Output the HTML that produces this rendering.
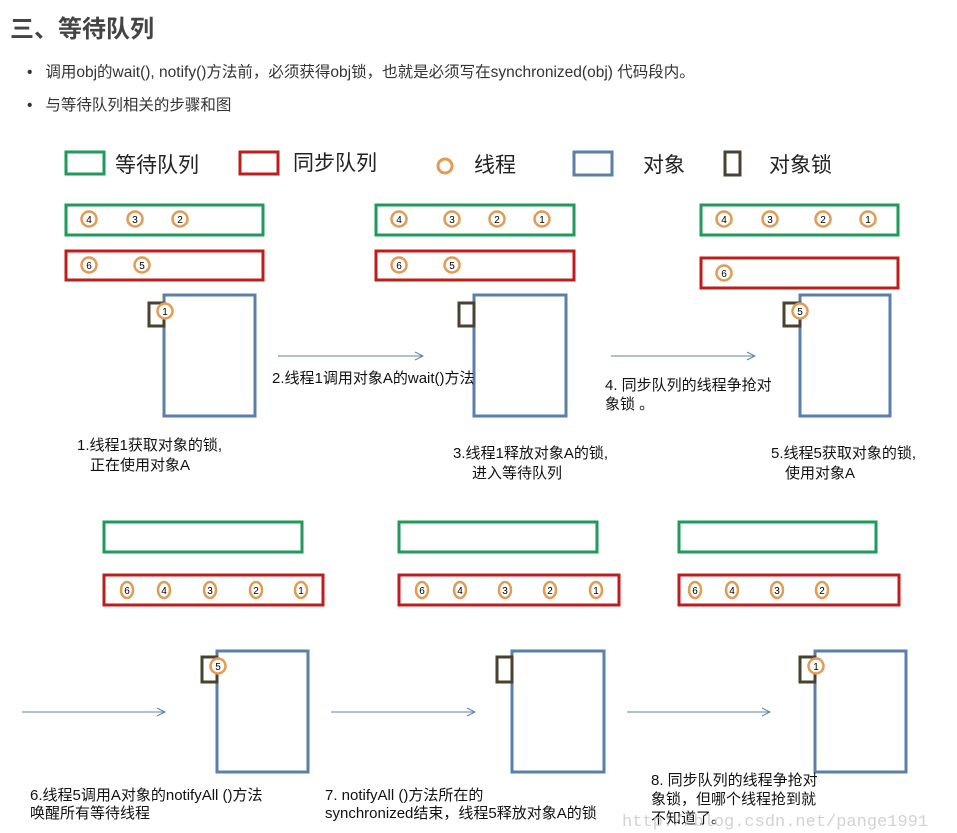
<!DOCTYPE html>
<html><head><meta charset="utf-8"><style>
html,body{margin:0;padding:0;background:#fff;}
body{width:957px;height:833px;overflow:hidden;position:relative;font-family:"Liberation Sans","Noto Sans CJK SC",sans-serif;}
.t{position:absolute;white-space:nowrap;}
</style></head><body>
<div class="t" style="left:10px;top:9px;font-size:24px;font-weight:bold;color:#444;">三、等待队列</div>
<div class="t" style="left:27px;top:60px;font-size:15.5px;color:#333;">•&nbsp;&nbsp; 调用obj的wait(), notify()方法前，必须获得obj锁，也就是必须写在synchronized(obj) 代码段内。</div>
<div class="t" style="left:27px;top:93px;font-size:15.5px;color:#333;">•&nbsp;&nbsp; 与等待队列相关的步骤和图</div>
<svg width="957" height="833" style="position:absolute;left:0;top:0" xmlns="http://www.w3.org/2000/svg" font-family="Liberation Sans,Noto Sans CJK SC,sans-serif">
<defs><marker id="a" markerWidth="10" markerHeight="10" refX="9" refY="5" orient="auto" markerUnits="userSpaceOnUse"><path d="M1,1 L9,5 L1,9" fill="none" stroke="#5b82ad" stroke-width="1"/></marker></defs>
<g fill="none" stroke-width="3">
<rect x="66" y="152" width="38" height="22" stroke="#1e9b5a"/>
<rect x="240" y="152" width="38" height="22" stroke="#c11c1c"/>
<circle cx="445" cy="166" r="7" stroke="#e39a55"/>
<rect x="574" y="152" width="38" height="23" stroke="#5b7fa8"/>
<rect x="725" y="152" width="15" height="23" stroke="#4a4230"/>
<rect x="66" y="205" width="197" height="30" stroke="#1e9b5a"/>
<rect x="66" y="251" width="197" height="29" stroke="#c11c1c"/>
<rect x="164" y="295" width="91" height="121" stroke="#5b7fa8"/>
<rect x="149" y="303" width="15" height="23" stroke="#4a4230"/>
<rect x="376" y="205" width="198" height="30" stroke="#1e9b5a"/>
<rect x="376" y="251" width="198" height="29" stroke="#c11c1c"/>
<rect x="474" y="295" width="92" height="121" stroke="#5b7fa8"/>
<rect x="459" y="303" width="15" height="23" stroke="#4a4230"/>
<rect x="701" y="205" width="197" height="30" stroke="#1e9b5a"/>
<rect x="701" y="258" width="197" height="30" stroke="#c11c1c"/>
<rect x="800" y="295" width="90" height="121" stroke="#5b7fa8"/>
<rect x="784" y="303" width="16" height="23" stroke="#4a4230"/>
<rect x="104" y="522" width="198" height="30" stroke="#1e9b5a"/>
<rect x="104" y="575" width="219" height="30" stroke="#c11c1c"/>
<rect x="217" y="651" width="91" height="121" stroke="#5b7fa8"/>
<rect x="202" y="657" width="15" height="25" stroke="#4a4230"/>
<rect x="399" y="522" width="198" height="30" stroke="#1e9b5a"/>
<rect x="399" y="575" width="220" height="30" stroke="#c11c1c"/>
<rect x="512" y="651" width="92" height="121" stroke="#5b7fa8"/>
<rect x="497" y="657" width="15" height="25" stroke="#4a4230"/>
<rect x="679" y="522" width="197" height="30" stroke="#1e9b5a"/>
<rect x="679" y="575" width="220" height="30" stroke="#c11c1c"/>
<rect x="815" y="651" width="91" height="121" stroke="#5b7fa8"/>
<rect x="800" y="657" width="15" height="25" stroke="#4a4230"/>
</g>
<g stroke="#5b82ad" stroke-width="1" marker-end="url(#a)">
<line x1="278" y1="356" x2="423" y2="356"/>
<line x1="611" y1="356" x2="755" y2="356"/>
<line x1="22" y1="712" x2="165" y2="712"/>
<line x1="331" y1="712" x2="475" y2="712"/>
<line x1="627" y1="712" x2="770" y2="712"/>
</g>
<g fill="#fff" stroke="#e39a55" stroke-width="2.5">
<circle cx="89" cy="219" r="7.5"/><circle cx="135" cy="219" r="7.5"/><circle cx="180" cy="219" r="7.5"/>
<circle cx="89" cy="265" r="7.5"/><circle cx="142" cy="265" r="7.5"/>
<circle cx="165" cy="311" r="7.5"/>
<circle cx="399" cy="219" r="7.5"/><circle cx="452" cy="219" r="7.5"/><circle cx="497" cy="219" r="7.5"/><circle cx="542" cy="219" r="7.5"/>
<circle cx="399" cy="265" r="7.5"/><circle cx="452" cy="265" r="7.5"/>
<circle cx="724" cy="219" r="7.5"/><circle cx="770" cy="219" r="7.5"/><circle cx="823" cy="219" r="7.5"/><circle cx="868" cy="219" r="7.5"/>
<circle cx="724" cy="273" r="7.5"/>
<circle cx="800" cy="311" r="7.5"/>
<ellipse cx="127" cy="590" rx="6" ry="8"/><ellipse cx="164" cy="590" rx="6" ry="8"/><ellipse cx="210" cy="590" rx="6" ry="8"/><ellipse cx="256" cy="590" rx="6" ry="8"/><ellipse cx="301" cy="590" rx="6" ry="8"/>
<ellipse cx="422" cy="590" rx="6" ry="8"/><ellipse cx="460" cy="590" rx="6" ry="8"/><ellipse cx="505" cy="590" rx="6" ry="8"/><ellipse cx="550" cy="590" rx="6" ry="8"/><ellipse cx="596" cy="590" rx="6" ry="8"/>
<ellipse cx="695" cy="590" rx="6" ry="8"/><ellipse cx="732" cy="590" rx="6" ry="8"/><ellipse cx="777" cy="590" rx="6" ry="8"/><ellipse cx="822" cy="590" rx="6" ry="8"/>
<circle cx="218" cy="666" r="7.5"/><circle cx="816" cy="666" r="7.5"/>
</g>
<g font-size="10" text-anchor="middle" fill="#000">
<text x="89" y="223">4</text><text x="135" y="223">3</text><text x="180" y="223">2</text>
<text x="89" y="269">6</text><text x="142" y="269">5</text><text x="165" y="315">1</text>
<text x="399" y="223">4</text><text x="452" y="223">3</text><text x="497" y="223">2</text><text x="542" y="223">1</text>
<text x="399" y="269">6</text><text x="452" y="269">5</text>
<text x="724" y="223">4</text><text x="770" y="223">3</text><text x="823" y="223">2</text><text x="868" y="223">1</text>
<text x="724" y="277">6</text><text x="800" y="315">5</text>
<text x="127" y="594">6</text><text x="164" y="594">4</text><text x="210" y="594">3</text><text x="256" y="594">2</text><text x="301" y="594">1</text>
<text x="422" y="594">6</text><text x="460" y="594">4</text><text x="505" y="594">3</text><text x="550" y="594">2</text><text x="596" y="594">1</text>
<text x="695" y="594">6</text><text x="732" y="594">4</text><text x="777" y="594">3</text><text x="822" y="594">2</text>
<text x="218" y="670">5</text><text x="816" y="670">1</text>
</g>
<g font-size="21" fill="#222">
<text x="115" y="172">等待队列</text><text x="293" y="170">同步队列</text>
<text x="474" y="172">线程</text><text x="643" y="172">对象</text><text x="769" y="172">对象锁</text>
</g>
<g font-size="15" fill="#111">
<text x="77" y="450">1.线程1获取对象的锁,</text><text x="90" y="470">正在使用对象A</text>
<text x="272" y="383">2.线程1调用对象A的wait()方法</text>
<text x="453" y="458">3.线程1释放对象A的锁,</text><text x="472" y="478">进入等待队列</text>
<text x="605" y="390">4. 同步队列的线程争抢对</text><text x="605" y="409">象锁 。</text>
<text x="771" y="458">5.线程5获取对象的锁,</text><text x="785" y="478">使用对象A</text>
<text x="30" y="800">6.线程5调用A对象的notifyAll ()方法</text><text x="30" y="818">唤醒所有等待线程</text>
<text x="325" y="800">7. notifyAll ()方法所在的</text><text x="325" y="818">synchronized结束，线程5释放对象A的锁</text>
<text x="651" y="785">8. 同步队列的线程争抢对</text><text x="651" y="804">象锁，但哪个线程抢到就</text><text x="651" y="823">不知道了。</text>
</g>
<text x="622" y="826" font-family="Liberation Mono,monospace" font-size="17" fill="#c8c8c8" opacity="0.8">http://blog.csdn.net/pange1991</text>
</svg>
</body></html>
